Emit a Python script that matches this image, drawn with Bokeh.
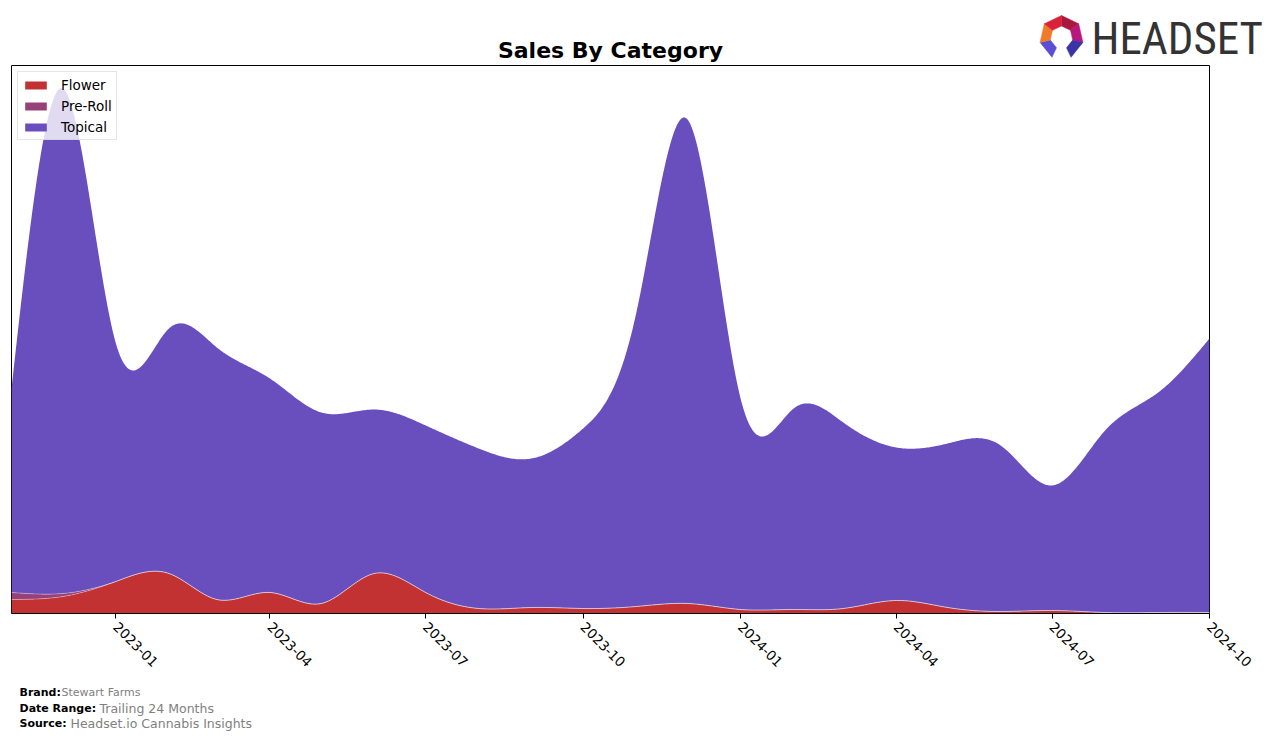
import math
import numpy as np
import pandas as pd
from bokeh.plotting import figure
from bokeh.layouts import column
from bokeh.core.properties import value
from bokeh.models import (Range1d, FixedTicker, DatetimeTickFormatter,
                          Legend, LegendItem)
from bokeh.embed import file_html
from bokeh.resources import INLINE

# ---------------- data (monthly, arbitrary sales units) ----------------
months = ["2022-11", "2022-12", "2023-01", "2023-02", "2023-03", "2023-04",
          "2023-05", "2023-06", "2023-07", "2023-08", "2023-09", "2023-10",
          "2023-11", "2023-12", "2024-01", "2024-02", "2024-03", "2024-04",
          "2024-05", "2024-06", "2024-07", "2024-08", "2024-09", "2024-10"]
flower = [14, 17, 32, 40, 14, 21, 10, 40, 21, 5, 6, 5,
          7, 10, 4, 4, 5, 13, 6, 2, 3, 1, 1, 1]
preroll = [7, 3, 0, 0, 0, 0, 0, 0, 0, 0, 0, 0,
           0, 0, 0, 0, 0, 0, 0, 0, 0, 0, 0, 0]
topical = [204, 505, 238, 245, 252, 214, 191, 164, 167, 160, 149, 180,
           293, 484, 211, 201, 186, 153, 164, 166, 125, 182, 220, 274]
tick_labels = ["2023-01", "2023-04", "2023-07", "2023-10",
               "2024-01", "2024-04", "2024-07", "2024-10"]

FLOWER_C = "#c33232"
PREROLL_C = "#984078"
TOPICAL_C = "#694ebd"
FONT = "DejaVu Sans"

# ---------------- smoothing (natural cubic spline) ----------------
x_ms = np.array([pd.Timestamp(m + "-01").value // 10**6 for m in months], dtype=float)
DAY = 86400000.0
tx = (x_ms - x_ms[0]) / DAY / 30.0
dense_t = np.linspace(0, tx[-1], 900)
dense_ms = x_ms[0] + dense_t * 30.0 * DAY


def spline(x, y, xs):
    x = np.asarray(x, float)
    y = np.asarray(y, float)
    m = len(x) - 1
    A = np.zeros((4 * m, 4 * m))
    b = np.zeros(4 * m)
    r = 0
    for i in range(m):
        h = x[i + 1] - x[i]
        A[r, 4 * i] = 1
        b[r] = y[i]
        r += 1
        A[r, 4 * i:4 * i + 4] = [1, h, h * h, h ** 3]
        b[r] = y[i + 1]
        r += 1
    for i in range(m - 1):
        h = x[i + 1] - x[i]
        A[r, 4 * i:4 * i + 4] = [0, 1, 2 * h, 3 * h * h]
        A[r, 4 * (i + 1) + 1] = -1
        r += 1
        A[r, 4 * i:4 * i + 4] = [0, 0, 2, 6 * h]
        A[r, 4 * (i + 1) + 2] = -2
        r += 1
    # natural end conditions
    A[r, 2] = 2
    r += 1
    h = x[m] - x[m - 1]
    A[r, 4 * (m - 1) + 2] = 2
    A[r, 4 * (m - 1) + 3] = 6 * h
    c = np.linalg.solve(A, b)
    idx = np.clip(np.searchsorted(x, xs, side="right") - 1, 0, m - 1)
    t = xs - x[idx]
    return c[4 * idx] + c[4 * idx + 1] * t + c[4 * idx + 2] * t ** 2 + c[4 * idx + 3] * t ** 3


f_s = np.clip(spline(tx, flower, dense_t), 0, None)
p_s = np.clip(spline(tx, preroll, dense_t), 0, None)
t_s = np.clip(spline(tx, topical, dense_t), 0, None)
y1 = f_s
y2 = y1 + p_s
y3 = y2 + t_s

W = 1276
HEAD_H, MAIN_H, FOOT_H = 65, 615, 59
FL, FR = 11, 1209


def blank(h, y0, y1_):
    f = figure(width=W, height=h, output_backend="svg", toolbar_location=None,
               x_range=Range1d(0, W), y_range=Range1d(y1_, y0),
               min_border=0, x_axis_location=None, y_axis_location=None)
    f.outline_line_color = None
    f.xgrid.visible = False
    f.ygrid.visible = False
    f.background_fill_color = "white"
    f.border_fill_color = "white"
    f.frame_align = False
    return f


# ---------------- header: title + logo ----------------
head = blank(HEAD_H, 0, HEAD_H)
head.text(x=[610], y=[50], text=["Sales By Category"], text_font=value(FONT),
          text_font_size=value("22px"), text_font_style="bold", text_color="black",
          text_align="center", text_baseline="middle")
head.text(x=[1091], y=[38], text=["HEADSET"],
          text_font=value("Liberation Sans Narrow, Roboto Condensed, DejaVu Sans Condensed, sans-serif"),
          text_font_size=value("45px"), text_color="#333333",
          text_align="left", text_baseline="middle")

cx0, cy0, R_out, R_in = 1061.0, 37.0, 22.0, 11.5
angs = [-90 + k * 360.0 / 7 for k in range(8)]
seg_cols = ["#a8183f", "#b8177c", "#3b33a6", None, "#5a4fd4", "#f07a2a", "#d8223a"]
pxs, pys, pcs = [], [], []
for k, col in enumerate(seg_cols):
    if col is None:
        continue
    a0, a1 = math.radians(angs[k]), math.radians(angs[k + 1])
    pxs.append([cx0 + R_out * math.cos(a0), cx0 + R_out * math.cos(a1),
                cx0 + R_in * math.cos(a1), cx0 + R_in * math.cos(a0)])
    pys.append([cy0 + R_out * math.sin(a0), cy0 + R_out * math.sin(a1),
                cy0 + R_in * math.sin(a1), cy0 + R_in * math.sin(a0)])
    pcs.append(col)
head.patches(xs=pxs, ys=pys, fill_color=pcs, line_color=pcs, line_width=0.5)

# ---------------- main chart ----------------
p = figure(width=W, height=MAIN_H, x_axis_type="datetime",
           output_backend="svg", toolbar_location=None,
           x_range=Range1d(x_ms[0], x_ms[-1]), y_range=Range1d(0, 548),
           min_border_left=FL, min_border_right=W - FR,
           min_border_top=0, min_border_bottom=MAIN_H - 548)
p.frame_align = False
p.background_fill_color = "white"
p.border_fill_color = "white"
p.xgrid.visible = False
p.ygrid.visible = False
p.yaxis.visible = False
p.outline_line_color = "black"
p.outline_line_width = 1
p.outline_line_alpha = 1

r_f = p.varea(x=dense_ms, y1=np.zeros_like(y1), y2=y1, fill_color=FLOWER_C)
r_p = p.varea(x=dense_ms, y1=y1, y2=y2, fill_color=PREROLL_C)
r_t = p.varea(x=dense_ms, y1=y2, y2=y3, fill_color=TOPICAL_C)
p.line(x=dense_ms, y=y1, line_color="white", line_alpha=0.35, line_width=1)
p.line(x=dense_ms, y=y2, line_color="white", line_alpha=0.35, line_width=1)

tick_ms = [float(pd.Timestamp(t + "-01").value // 10**6) for t in tick_labels]
xa = p.xaxis[0]
xa.ticker = FixedTicker(ticks=tick_ms, minor_ticks=[])
fmt = "%Y-%m"
xa.formatter = DatetimeTickFormatter(years=fmt, months=fmt, days=fmt, hours=fmt,
                                     minutes=fmt, seconds=fmt, milliseconds=fmt,
                                     microseconds=fmt, hourmin=fmt, minsec=fmt)
xa.major_label_orientation = -math.pi / 4
xa.major_label_text_font = FONT
xa.major_label_text_font_size = "13.5px"
xa.major_label_text_color = "black"
xa.major_tick_out = 5
xa.major_tick_in = 0
xa.minor_tick_out = 0
xa.minor_tick_in = 0
xa.axis_line_color = "black"
xa.major_tick_line_color = "black"
xa.major_label_standoff = 6

legend = Legend(items=[LegendItem(label="Flower", renderers=[r_f]),
                       LegendItem(label="Pre-Roll", renderers=[r_p]),
                       LegendItem(label="Topical", renderers=[r_t])],
                location="top_left")
legend.label_text_font = FONT
legend.label_text_font_size = "13.5px"
legend.label_text_color = "black"
legend.glyph_width = 27
legend.glyph_height = 10
legend.label_height = 17
legend.label_standoff = 12
legend.padding = 4
legend.spacing = 4
legend.margin = 6
legend.border_line_color = "#cccccc"
legend.border_line_width = 1
legend.background_fill_alpha = 0.8
p.add_layout(legend)

# ---------------- footer ----------------
foot = blank(FOOT_H, HEAD_H + MAIN_H, HEAD_H + MAIN_H + FOOT_H)


def ftxt(x, y, s, size, bold=False, color="black"):
    foot.text(x=[x], y=[y], text=[s], text_font=value(FONT),
              text_font_size=value(size), text_font_style="bold" if bold else "normal",
              text_color=color, text_align="left", text_baseline="middle")


ftxt(19, 692, "Brand:", "11px", bold=True)
ftxt(61, 692, "Stewart Farms", "11px", color="#808080")
ftxt(19, 708, "Date Range:", "11px", bold=True)
ftxt(99, 708, "Trailing 24 Months", "12.5px", color="#808080")
ftxt(19, 723, "Source:", "11px", bold=True)
ftxt(70, 723, "Headset.io Cannabis Insights", "12.5px", color="#808080")

layout = column(head, p, foot, spacing=0)
open("out.html", "w").write(file_html(layout, INLINE))
